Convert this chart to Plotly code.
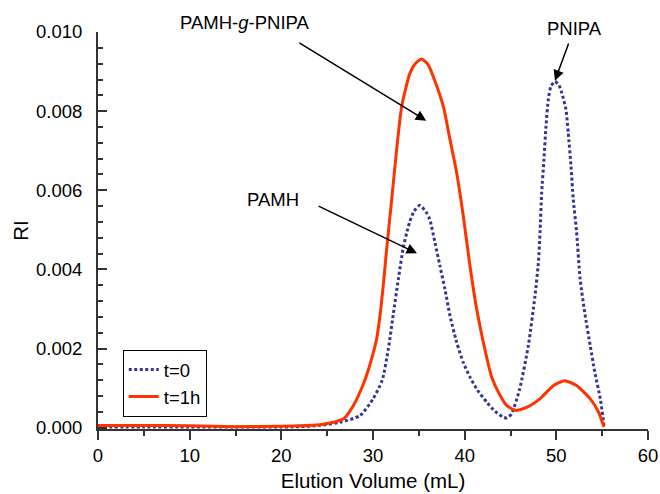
import plotly.graph_objects as go

# Elution volume (mL) and RI response (units of 0.001) for each sample
vol_t0 = [0, 5, 10, 15, 20, 22, 24.2, 26.4, 28.6, 30.0, 31.0, 31.67, 32.2, 32.76, 33.3,
          33.7, 34.03, 34.5, 35.1, 35.8, 36.2, 36.76, 37.3, 37.85, 38.4, 39.13, 39.85,
          40.58, 41.4, 42.4, 43.3, 44.2, 44.6, 45.1, 46.0, 46.94, 47.67, 48.04, 48.22,
          48.4, 48.65, 48.87, 49.12, 49.4, 49.85, 50.3, 50.6, 51.05, 51.3, 51.6,
          51.85, 52.2, 52.6, 53.1, 53.7, 54.2, 54.8, 55.2]
ri_t0 = [0.02, 0.02, 0.02, 0.02, 0.02, 0.03, 0.06, 0.14, 0.31, 0.73, 1.20, 1.99, 2.85,
         3.75, 4.55, 4.95, 5.22, 5.48, 5.62, 5.45, 5.26, 4.68, 4.09, 3.50, 2.83, 2.16,
         1.65, 1.28, 0.95, 0.65, 0.42, 0.27, 0.25, 0.35, 0.98, 2.07, 3.33, 4.17, 4.93,
         5.94, 6.78, 7.61, 8.29, 8.62, 8.75, 8.65, 8.46, 8.04, 7.45, 6.61, 5.77, 4.97,
         3.75, 2.91, 2.07, 1.40, 0.73, 0.06]

vol_t1h = [0, 5, 10, 15, 20, 22, 24.2, 25.3, 26.8, 27.85, 28.94, 29.67, 30.4, 30.76,
           31.1, 31.49, 32.04, 32.58, 33.13, 34.03, 34.6, 35.3, 36.0, 36.58, 37.67, 38.4,
           39.13, 39.85, 40.58, 41.31, 42.2, 42.95, 43.8, 44.6, 45.6, 46.8, 48.2, 49.7,
           50.9, 52.2, 53.7, 54.6, 55.2]
ri_t1h = [0.06, 0.06, 0.05, 0.03, 0.04, 0.05, 0.08, 0.12, 0.23, 0.56, 1.10, 1.60, 2.25,
          2.83, 3.55, 4.51, 5.77, 7.03, 8.12, 8.96, 9.20, 9.32, 9.18, 8.87, 8.12, 7.28,
          6.44, 5.35, 4.09, 3.00, 1.99, 1.28, 0.85, 0.56, 0.44, 0.52, 0.73, 1.07, 1.19,
          1.07, 0.73, 0.40, 0.02]

series_names = ["t=0", "t=1h"]
y_ticks = [0.000, 0.002, 0.004, 0.006, 0.008, 0.010]

FONT = "Liberation Sans, Arial, sans-serif"
BLUE = "#33339a"
RED = "#ff3300"
AXIS = "#333333"

fig = go.Figure()
fig.add_trace(go.Scatter(
    x=vol_t0, y=[v / 1000 for v in ri_t0], name=series_names[0], mode="lines",
    line=dict(color=BLUE, width=3, dash="3px,2.5px", shape="spline", smoothing=0.6),
))
fig.add_trace(go.Scatter(
    x=vol_t1h, y=[v / 1000 for v in ri_t1h], name=series_names[1], mode="lines",
    line=dict(color=RED, width=3, shape="spline", smoothing=0.6),
))

# peak labels
labels = [
    dict(text="PAMH-<i>g</i>-PNIPA", x=0.267, y=1.0227),
    dict(text="PAMH", x=0.318, y=0.577),
    dict(text="PNIPA", x=0.867, y=1.0076),
]
for lab in labels:
    fig.add_annotation(xref="paper", yref="paper", x=lab["x"], y=lab["y"],
                       xanchor="center", yanchor="middle",
                       text=lab["text"], showarrow=False,
                       font=dict(family=FONT, size=18.5, color="black"))

# arrows pointing at the peaks (head x, head y, tail x, tail y)
arrows = [
    (35.8, 0.00776, 21.8, 0.00975),
    (34.8, 0.00441, 23.9, 0.00562),
    (49.85, 0.00877, 51.4, 0.00975),
]
for hx, hy, tx, ty in arrows:
    fig.add_annotation(x=hx, y=hy, ax=tx, ay=ty, xref="x", yref="y",
                       axref="x", ayref="y", text="", showarrow=True,
                       arrowhead=2, arrowsize=1.4, arrowwidth=1.5,
                       arrowcolor="black")

fig.update_layout(
    width=660, height=494,
    margin=dict(l=98, r=12, t=32, b=65),
    paper_bgcolor="white", plot_bgcolor="white",
    font=dict(family=FONT, size=18.5, color="black"),
    showlegend=True,
    legend=dict(x=0.045, y=0.199, xanchor="left", yanchor="top",
                bordercolor="black", borderwidth=1, bgcolor="white",
                font=dict(family=FONT, size=18.5)),
    xaxis=dict(
        range=[0, 60], tick0=0, dtick=10, automargin=False,
        ticks="outside", ticklen=9, tickwidth=1.5, tickcolor=AXIS,
        minor=dict(dtick=5, ticks="outside", ticklen=5, tickwidth=1.5, tickcolor=AXIS),
        showline=True, linecolor=AXIS, linewidth=2,
        showgrid=False, zeroline=False,
        tickfont=dict(size=18.5),
        title=dict(text="Elution Volume (mL)", font=dict(size=20.5), standoff=8),
    ),
    yaxis=dict(
        range=[-0.00003, 0.0100], tickvals=y_ticks, tickformat=".3f", automargin=False,
        ticks="inside", ticklen=9, tickwidth=1.5, tickcolor=AXIS,
        minor=dict(tick0=0, dtick=0.0004, ticks="inside", ticklen=5,
                   tickwidth=1.5, tickcolor=AXIS),
        showline=True, linecolor=AXIS, linewidth=2,
        showgrid=False, zeroline=False,
        ticklabelstandoff=10,
        tickfont=dict(size=18.5),
        title=dict(text="RI", font=dict(size=20.5), standoff=2),
    ),
)

fig.write_html("out.html")
